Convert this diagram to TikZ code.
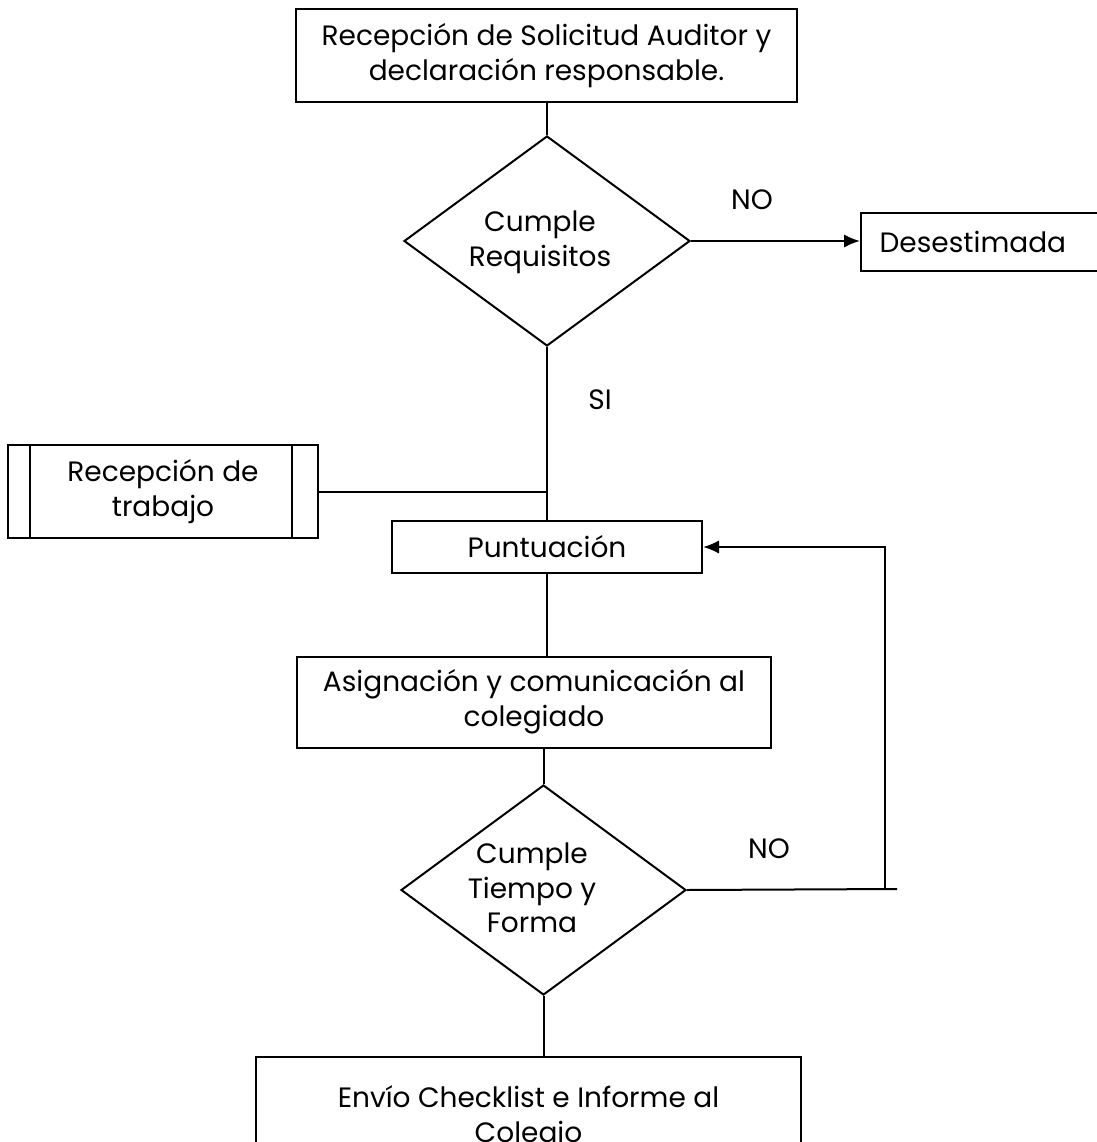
\documentclass[tikz,border=0pt]{standalone}
\usepackage{fontspec}
\setmainfont{Poppins}
\usetikzlibrary{shapes.geometric,arrows.meta,calc}

\tikzset{
  flowbox/.style={draw, rectangle, align=center, inner sep=0pt},
  decision/.style={draw, diamond, inner sep=0pt},
  flowline/.style={line width=1.5pt},
  flowarrow/.style={flowline, -{Latex[length=12pt,width=10pt]}},
  branchlabel/.style={inner sep=0pt}
}

\begin{document}
\begin{tikzpicture}[x=0.75pt, y=-0.75pt, line width=1.5pt,
  font=\fontsize{21}{26}\selectfont]
\useasboundingbox (0,0) rectangle (1096,1142);

% boxes
\node[flowbox, minimum width=375.75pt, minimum height=69.75pt] (solicitud) at (546.5,55.5)
  {Recepción de Solicitud Auditor y\\declaración responsable.};
\node[decision, minimum width=214.5pt, minimum height=157.5pt] (requisitos) at (547,241) {};
\node[align=center, inner sep=0pt] (requisitostxt) at (540,242) {Cumple\\Requisitos};
\node[flowbox, anchor=west, minimum width=187.5pt, minimum height=43.5pt,
  text width=160pt, align=left, inner xsep=14pt] (desestimada) at (860,242) {Desestimada};
\node[flowbox, minimum width=232.5pt, minimum height=69.75pt] (trabajo) at (163,491.5)
  {Recepción de\\trabajo};
\draw ($(trabajo.north west)+(23,0)$) -- ($(trabajo.south west)+(23,0)$);
\draw ($(trabajo.north east)+(-27,0)$) -- ($(trabajo.south east)+(-27,0)$);
\node[flowbox, minimum width=232.5pt, minimum height=39pt] (puntuacion) at (547,547)
  {Puntuación};
\node[flowbox, minimum width=355.5pt, minimum height=68.25pt] (asignacion) at (534,702)
  {Asignación y comunicación al\\colegiado};
\node[decision, minimum width=213.75pt, minimum height=157.5pt] (forma) at (543.5,890) {};
\node[align=center, inner sep=0pt] (formatxt) at (532,888) {Cumple\\Tiempo y\\Forma};
\node[flowbox, minimum width=408.75pt, minimum height=91.5pt] (envio) at (528.5,1118)
  {Envío Checklist e Informe al\\Colegio};

% labels
\node[branchlabel] (no1) at (752,200) {NO};
\node[branchlabel] (si) at (600,400) {SI};
\node[branchlabel] (no2) at (769,849) {NO};

% connectors
\coordinate (nofar) at (897,889);
\coordinate (nocorner) at (885,547);
\draw[flowline] (solicitud.south -| requisitos.north) -- (requisitos.north);
\draw[flowarrow] (requisitos.east) -- (requisitos.east -| desestimada.west);
\draw[flowline] (requisitos.south) -- (requisitos.south |- puntuacion.north);
\draw[flowline] (trabajo.east) -- (trabajo.east -| requisitos.south);
\draw[flowline] (puntuacion.south) -- (puntuacion.south |- asignacion.north);
\draw[flowline] (forma.north |- asignacion.south) -- (forma.north);
\draw[flowline] (forma.east) -- (nofar);
\draw[flowarrow] (nocorner |- nofar) -- (nocorner) -- (puntuacion.east);
\draw[flowline] (forma.south) -- (forma.south |- envio.north);
\end{tikzpicture}
\end{document}
